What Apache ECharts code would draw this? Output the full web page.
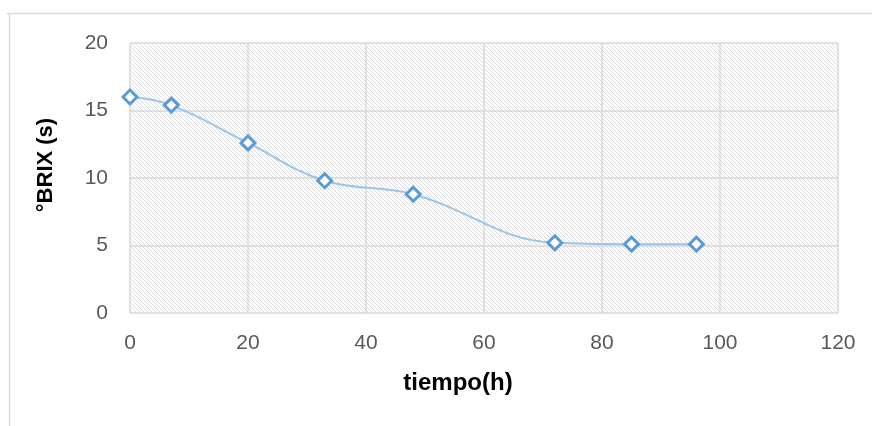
<!DOCTYPE html>
<html>
<head>
<meta charset="utf-8">
<script src="https://cdn.jsdelivr.net/npm/echarts@6/dist/echarts.min.js"></script>
<style>
  html, body { margin: 0; padding: 0; background: #ffffff; }
  #chart { width: 872px; height: 426px; }
</style>
</head>
<body>
<div id="chart"></div>
<script>
// Sugar content over fermentation time
const hours = [0, 7, 20, 33, 48, 72, 85, 96];
const brix = [16.0, 15.4, 12.6, 9.8, 8.8, 5.2, 5.1, 5.1];
const xTitle = 'tiempo(h)';
const yTitle = '°BRIX (s)';

// Diagonal hatch fill for the plot area
function hatch() {
  const c = document.createElement('canvas');
  c.width = 4; c.height = 4;
  const g = c.getContext('2d');
  g.fillStyle = '#ffffff';
  g.fillRect(0, 0, 4, 4);
  g.fillStyle = '#dcdcdc';
  for (let i = 0; i < 4; i++) g.fillRect(i, i, 1, 1);
  return c;
}

const points = hours.map((h, i) => [h, brix[i]]);
const font = '"Liberation Sans", Arial, sans-serif';

const chart = echarts.init(document.getElementById('chart'));
chart.setOption({
  animation: false,
  backgroundColor: '#ffffff',
  grid: {
    left: 130, right: 34, top: 43, bottom: 113,
    show: true,
    borderWidth: 0,
    backgroundColor: { image: hatch(), repeat: 'repeat' }
  },
  xAxis: {
    type: 'value', min: 0, max: 120, interval: 20,
    axisLine: { show: false }, axisTick: { show: false },
    splitLine: { show: true, lineStyle: { color: '#d9d9d9', width: 1.5 } },
    axisLabel: { color: '#595959', fontSize: 21, fontFamily: font, margin: 20 }
  },
  yAxis: {
    type: 'value', min: 0, max: 20, interval: 5,
    axisLine: { show: false }, axisTick: { show: false },
    splitLine: { show: true, lineStyle: { color: '#d9d9d9', width: 1.5 } },
    axisLabel: { color: '#595959', fontSize: 21, fontFamily: font, margin: 22 }
  },
  graphic: [
    { type: 'line', shape: { x1: 7, y1: 13.5, x2: 872, y2: 13.5 }, style: { stroke: '#d9d9d9', lineWidth: 1.5 }, silent: true },
    { type: 'line', shape: { x1: 9.5, y1: 13, x2: 9.5, y2: 426 }, style: { stroke: '#d9d9d9', lineWidth: 1.5 }, silent: true },
    { type: 'text', x: 458, y: 383, style: { text: xTitle, font: 'bold 24px ' + font, fill: '#000000', align: 'center', verticalAlign: 'middle' } },
    { type: 'text', x: 46, y: 165, rotation: Math.PI / 2, style: { text: yTitle, font: 'bold 22px ' + font, fill: '#000000', align: 'center', verticalAlign: 'middle' } }
  ],
  series: [{
    type: 'line',
    data: points,
    smooth: 0.4,
    lineStyle: { color: '#9dc3e6', width: 2 },
    symbol: 'diamond',
    symbolSize: 14,
    itemStyle: { color: '#ffffff', borderColor: '#5b9bd5', borderWidth: 3 },
    z: 3
  }]
});
</script>
</body>
</html>
